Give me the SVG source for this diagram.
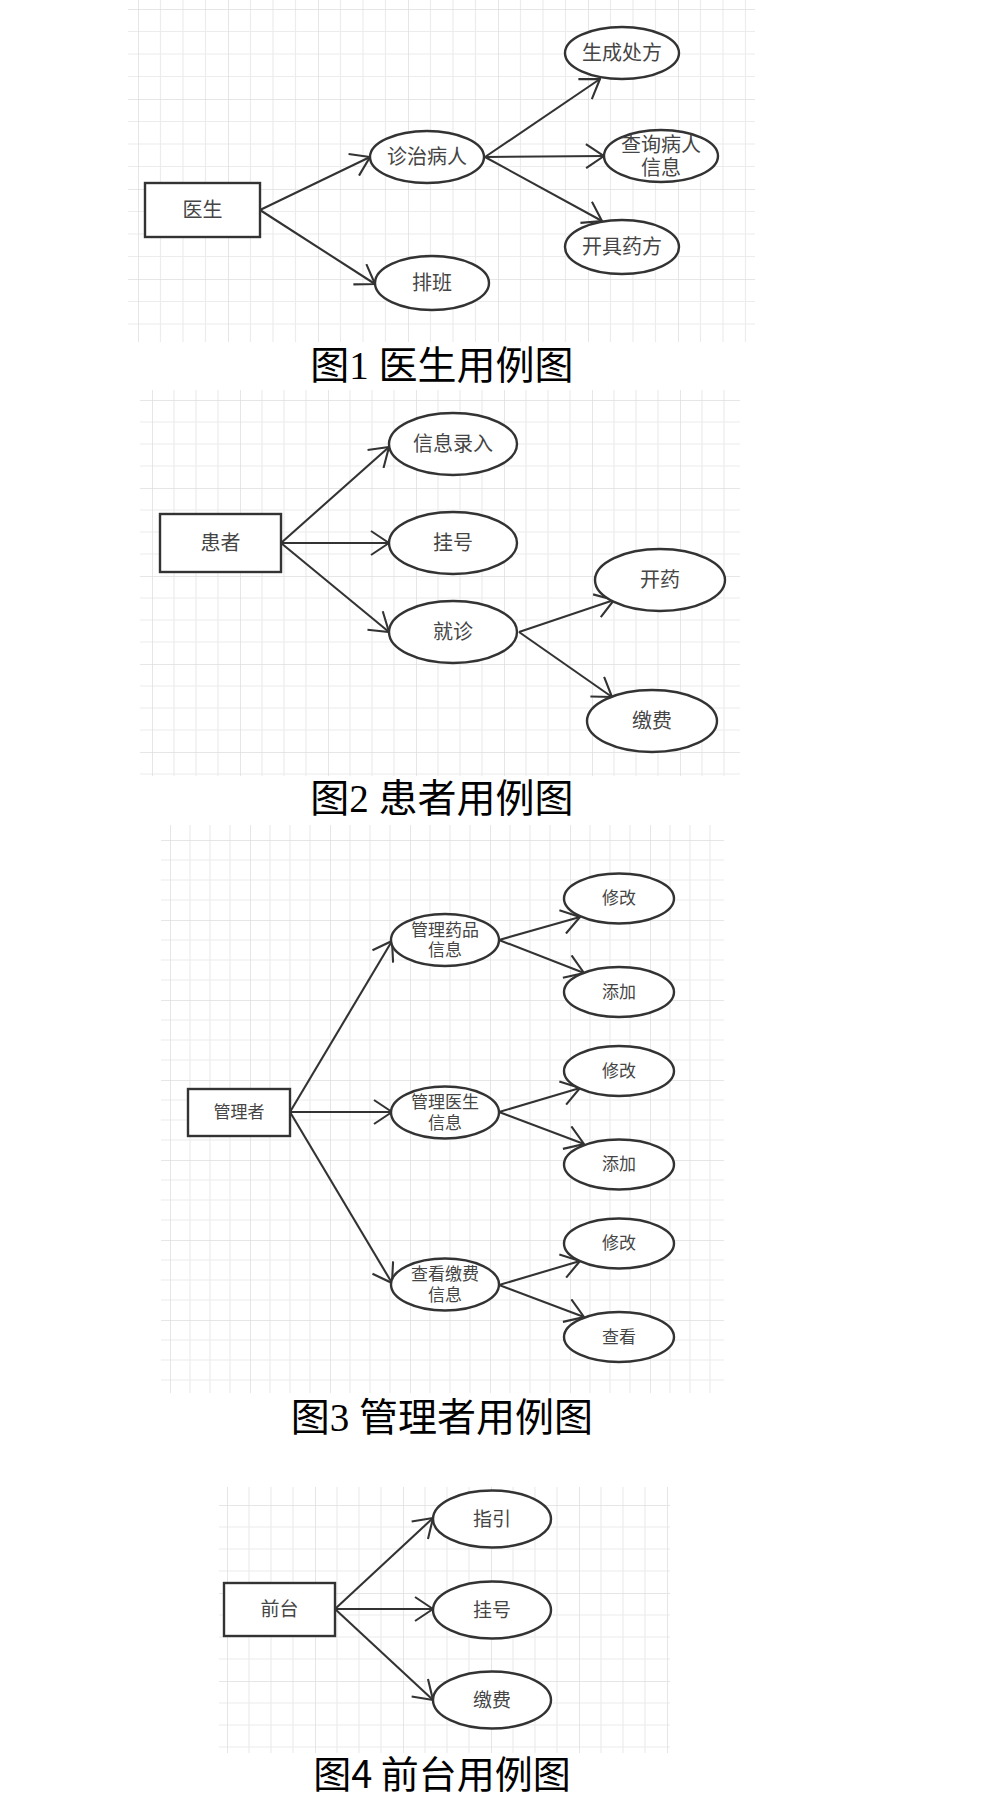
<svg xmlns="http://www.w3.org/2000/svg" width="986" height="1809" viewBox="0 0 986 1809">
<style>
.bg{fill:#fff}
.node rect,.node ellipse{fill:#fff;stroke:#333;stroke-width:2.4}
.lbl{font-family:"Liberation Sans","Noto Sans CJK SC",sans-serif;fill:#454545;text-anchor:middle;dominant-baseline:central}
.f20{font-size:20px}.f19{font-size:19px}.f17{font-size:17px}
.cap{font-family:"Liberation Serif","Noto Sans CJK SC",serif;font-size:39px;fill:#000;text-anchor:middle}
.cap4{font-family:"Noto Sans CJK SC","Noto Sans",sans-serif;font-size:38px;fill:#000;text-anchor:middle}
.conn line{stroke:#333;stroke-width:2.1;marker-end:url(#arr)}
</style>
<defs>
<marker id="arr" viewBox="0 0 20 26" refX="19" refY="13" markerWidth="20" markerHeight="26" orient="auto" markerUnits="userSpaceOnUse">
<path d="M1,1 L19,13 L1,25" fill="none" stroke="#333" stroke-width="2.1"/>
</marker>
<pattern id="g1" patternUnits="userSpaceOnUse" x="138" y="9" width="90" height="90">
<path d="M0,22.5H90M0,45H90M0,67.5H90M22.5,0V90M45,0V90M67.5,0V90" stroke="#ececec" stroke-width="1.2" fill="none"/>
<path d="M0,0H90M0,0V90" stroke="#dedede" stroke-width="1.5" fill="none"/>
</pattern>
<pattern id="g2" patternUnits="userSpaceOnUse" x="152" y="400" width="88" height="88">
<path d="M0,22H88M0,44H88M0,66H88M22,0V88M44,0V88M66,0V88" stroke="#ececec" stroke-width="1.2" fill="none"/>
<path d="M0,0H88M0,0V88" stroke="#dedede" stroke-width="1.5" fill="none"/>
</pattern>
<pattern id="g3" patternUnits="userSpaceOnUse" x="170" y="840" width="80" height="80">
<path d="M0,20H80M0,40H80M0,60H80M20,0V80M40,0V80M60,0V80" stroke="#ececec" stroke-width="1.2" fill="none"/>
<path d="M0,0H80M0,0V80" stroke="#dedede" stroke-width="1.5" fill="none"/>
</pattern>
<pattern id="g4" patternUnits="userSpaceOnUse" x="227" y="1505" width="88" height="88">
<path d="M0,22H88M0,44H88M0,66H88M22,0V88M44,0V88M66,0V88" stroke="#ececec" stroke-width="1.2" fill="none"/>
<path d="M0,0H88M0,0V88" stroke="#dedede" stroke-width="1.5" fill="none"/>
</pattern>
</defs>
<rect class="bg" x="0" y="0" width="986" height="1809"/>
<g id="grids">
<rect x="128" y="0" width="627" height="342" fill="url(#g1)"/>
<rect x="140" y="390" width="600" height="386" fill="url(#g2)"/>
<rect x="161" y="825" width="563" height="568" fill="url(#g3)"/>
<rect x="219" y="1487" width="451" height="266" fill="url(#g4)"/>
</g>
<g id="connectors" class="conn">
<line x1="260" y1="210" x2="370" y2="157"/>
<line x1="260" y1="210" x2="375" y2="284"/>
<line x1="485" y1="157" x2="600" y2="79"/>
<line x1="485" y1="157" x2="604" y2="156"/>
<line x1="485" y1="157" x2="602" y2="221"/>
<line x1="281" y1="543" x2="389" y2="447"/>
<line x1="281" y1="543" x2="389" y2="543"/>
<line x1="281" y1="543" x2="389" y2="632"/>
<line x1="519" y1="632" x2="614" y2="600"/>
<line x1="519" y1="632" x2="612" y2="697"/>
<line x1="290" y1="1112" x2="392" y2="941"/>
<line x1="290" y1="1112" x2="392" y2="1112"/>
<line x1="290" y1="1112" x2="392" y2="1283"/>
<line x1="499" y1="940" x2="580" y2="917"/>
<line x1="499" y1="940" x2="584" y2="973"/>
<line x1="499" y1="1112" x2="580" y2="1088"/>
<line x1="499" y1="1112" x2="584" y2="1144"/>
<line x1="499" y1="1285" x2="580" y2="1261"/>
<line x1="499" y1="1285" x2="584" y2="1317"/>
<line x1="335" y1="1609" x2="433" y2="1518"/>
<line x1="335" y1="1609" x2="433" y2="1609"/>
<line x1="335" y1="1609" x2="433" y2="1700"/>
</g>
<g id="doctor" class="node"><rect x="145" y="183" width="115" height="54"/><text class="lbl f20" x="202.5" y="210">医生</text></g>
<g id="d_treat" class="node"><ellipse cx="427" cy="157" rx="57" ry="26"/><text class="lbl f20" x="427" y="157">诊治病人</text></g>
<g id="d_schedule" class="node"><ellipse cx="432" cy="283" rx="57" ry="27"/><text class="lbl f20" x="432" y="283">排班</text></g>
<g id="d_gen" class="node"><ellipse cx="622" cy="53" rx="57" ry="26"/><text class="lbl f20" x="622" y="53">生成处方</text></g>
<g id="d_query" class="node"><ellipse cx="661" cy="156" rx="57" ry="26"/><text class="lbl f20" x="661" y="145">查询病人<tspan x="661" y="168">信息</tspan></text></g>
<g id="d_rx" class="node"><ellipse cx="622" cy="247" rx="57" ry="27"/><text class="lbl f20" x="622" y="247">开具药方</text></g>
<text class="cap" x="442" y="379">图1 医生用例图</text>

<g id="patient" class="node"><rect x="160" y="514" width="121" height="58"/><text class="lbl f20" x="220.5" y="543">患者</text></g>
<g id="p_info" class="node"><ellipse cx="453" cy="444" rx="64" ry="31"/><text class="lbl f20" x="453" y="444">信息录入</text></g>
<g id="p_reg" class="node"><ellipse cx="453" cy="543" rx="64" ry="31"/><text class="lbl f20" x="453" y="543">挂号</text></g>
<g id="p_visit" class="node"><ellipse cx="453" cy="632" rx="64" ry="31"/><text class="lbl f20" x="453" y="632">就诊</text></g>
<g id="p_med" class="node"><ellipse cx="660" cy="580" rx="65" ry="31"/><text class="lbl f20" x="660" y="580">开药</text></g>
<g id="p_pay" class="node"><ellipse cx="652" cy="721" rx="65" ry="31"/><text class="lbl f20" x="652" y="721">缴费</text></g>
<text class="cap" x="442" y="812">图2 患者用例图</text>

<g id="admin" class="node"><rect x="188" y="1089" width="102" height="47"/><text class="lbl f17" x="239" y="1112">管理者</text></g>
<g id="a_drug" class="node"><ellipse cx="445" cy="940" rx="54" ry="26"/><text class="lbl f17" x="445" y="930">管理药品<tspan x="445" y="950">信息</tspan></text></g>
<g id="a_doc" class="node"><ellipse cx="445" cy="1112.5" rx="54" ry="26"/><text class="lbl f17" x="445" y="1102.5">管理医生<tspan x="445" y="1122.5">信息</tspan></text></g>
<g id="a_fee" class="node"><ellipse cx="445" cy="1284.5" rx="54" ry="26"/><text class="lbl f17" x="445" y="1274.5">查看缴费<tspan x="445" y="1294.5">信息</tspan></text></g>
<g id="a_drug_mod" class="node"><ellipse cx="619" cy="898.5" rx="55" ry="25"/><text class="lbl f17" x="619" y="898.5">修改</text></g>
<g id="a_drug_add" class="node"><ellipse cx="619" cy="992" rx="55" ry="25"/><text class="lbl f17" x="619" y="992">添加</text></g>
<g id="a_doc_mod" class="node"><ellipse cx="619" cy="1071" rx="55" ry="25"/><text class="lbl f17" x="619" y="1071">修改</text></g>
<g id="a_doc_add" class="node"><ellipse cx="619" cy="1164.5" rx="55" ry="25"/><text class="lbl f17" x="619" y="1164.5">添加</text></g>
<g id="a_fee_mod" class="node"><ellipse cx="619" cy="1243.5" rx="55" ry="25"/><text class="lbl f17" x="619" y="1243.5">修改</text></g>
<g id="a_fee_view" class="node"><ellipse cx="619" cy="1337" rx="55" ry="25"/><text class="lbl f17" x="619" y="1337">查看</text></g>
<text class="cap" x="442" y="1431">图3 管理者用例图</text>

<g id="front" class="node"><rect x="224" y="1583" width="111" height="53"/><text class="lbl f19" x="279.5" y="1609.5">前台</text></g>
<g id="f_guide" class="node"><ellipse cx="492" cy="1519" rx="59" ry="28.5"/><text class="lbl f19" x="492" y="1519">指引</text></g>
<g id="f_reg" class="node"><ellipse cx="492" cy="1610" rx="59" ry="28.5"/><text class="lbl f19" x="492" y="1610">挂号</text></g>
<g id="f_pay" class="node"><ellipse cx="492" cy="1700" rx="59" ry="28.5"/><text class="lbl f19" x="492" y="1700">缴费</text></g>
<text class="cap4" x="442" y="1788">图4 前台用例图</text>
</svg>
